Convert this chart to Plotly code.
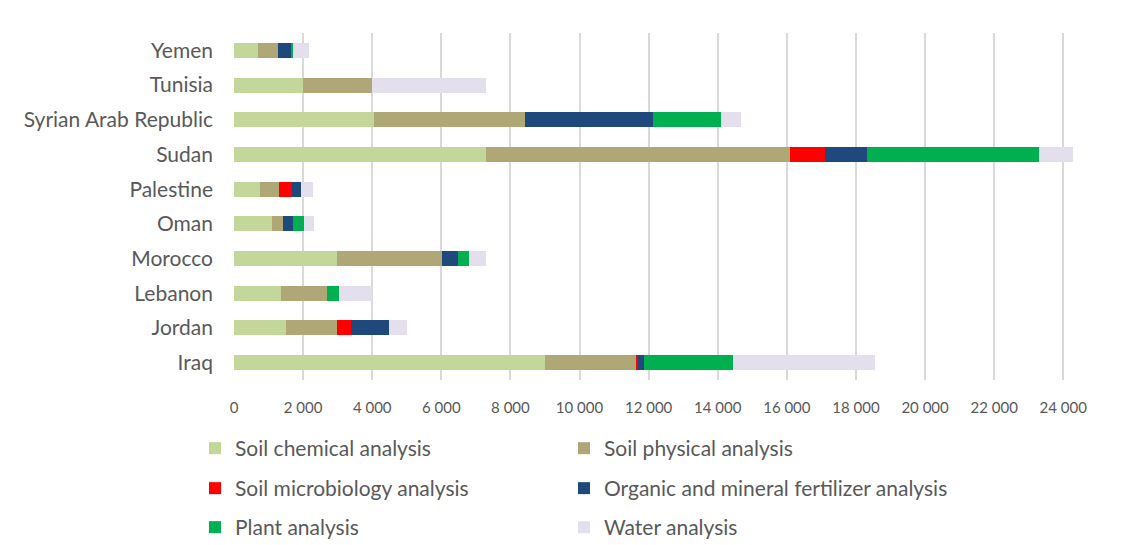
import plotly.graph_objects as go

countries = ["Iraq", "Jordan", "Lebanon", "Morocco", "Oman", "Palestine",
             "Sudan", "Syrian Arab Republic", "Tunisia", "Yemen"]

soil_chemical = [9000, 1500, 1350, 2980, 1110, 740, 7280, 4060, 2000, 690]
soil_physical = [2620, 1490, 1340, 3030, 320, 550, 8800, 4370, 2000, 580]
soil_microbiology = [80, 410, 0, 0, 0, 390, 1010, 0, 0, 0]
fertilizer = [170, 1100, 0, 470, 290, 250, 1220, 3710, 0, 380]
plant = [2580, 0, 340, 320, 310, 0, 4980, 1950, 0, 50]
water = [4110, 500, 950, 490, 280, 360, 1000, 570, 3300, 470]

series = [
    ("Soil chemical analysis", soil_chemical, "#c4d79b"),
    ("Soil physical analysis", soil_physical, "#b0a776"),
    ("Soil microbiology analysis", soil_microbiology, "#ff0000"),
    ("Organic and mineral fertilizer analysis", fertilizer, "#1f497d"),
    ("Plant analysis", plant, "#00b050"),
    ("Water analysis", water, "#e4dfec"),
]

tick_vals = list(range(0, 24001, 2000))

FONT = "Lato"
GRAY = "#595959"
W, H = 1125, 537

legend_ids = ["legend", "legend2", "legend3", "legend4", "legend5", "legend6"]
col_x = [187, 556]
row_top = [420, 460, 499]

fig = go.Figure()
for i, (name, vals, color) in enumerate(series):
    fig.add_trace(go.Bar(
        y=countries, x=vals, name=name, orientation="h",
        marker=dict(color=color, line=dict(width=0)),
        legend=legend_ids[i], showlegend=True,
    ))

legend_layout = {}
for i, lid in enumerate(legend_ids):
    legend_layout[lid] = dict(
        orientation="h", xanchor="left", yanchor="top",
        xref="container", yref="container",
        x=col_x[i % 2] / W, y=1 - row_top[i // 2] / H,
        font=dict(family=FONT, size=21, color=GRAY),
        bgcolor="rgba(0,0,0,0)", itemwidth=30,
    )

fig.update_layout(
    width=W, height=H, showlegend=True,
    margin=dict(l=226, r=49, t=25, b=165, autoexpand=False),
    barmode="stack", bargap=0.57,
    plot_bgcolor="white", paper_bgcolor="white",
    separators=". ",
    font=dict(family=FONT, color=GRAY),
    xaxis=dict(
        range=[0, 24600], tickvals=tick_vals, tickformat=",d",
        showgrid=True, gridcolor="#d9d9d9", gridwidth=1.5,
        zeroline=False, showline=False, ticks="",
        tickfont=dict(family=FONT, size=15, color=GRAY),
        ticklabelstandoff=17, automargin=False,
    ),
    yaxis=dict(
        categoryorder="array", categoryarray=countries,
        showgrid=False, zeroline=False, showline=False, ticks="",
        tickfont=dict(family=FONT, size=21, color=GRAY),
        ticklabelstandoff=20, automargin=False,
    ),
    **legend_layout,
)

fig.write_html("out.html")
